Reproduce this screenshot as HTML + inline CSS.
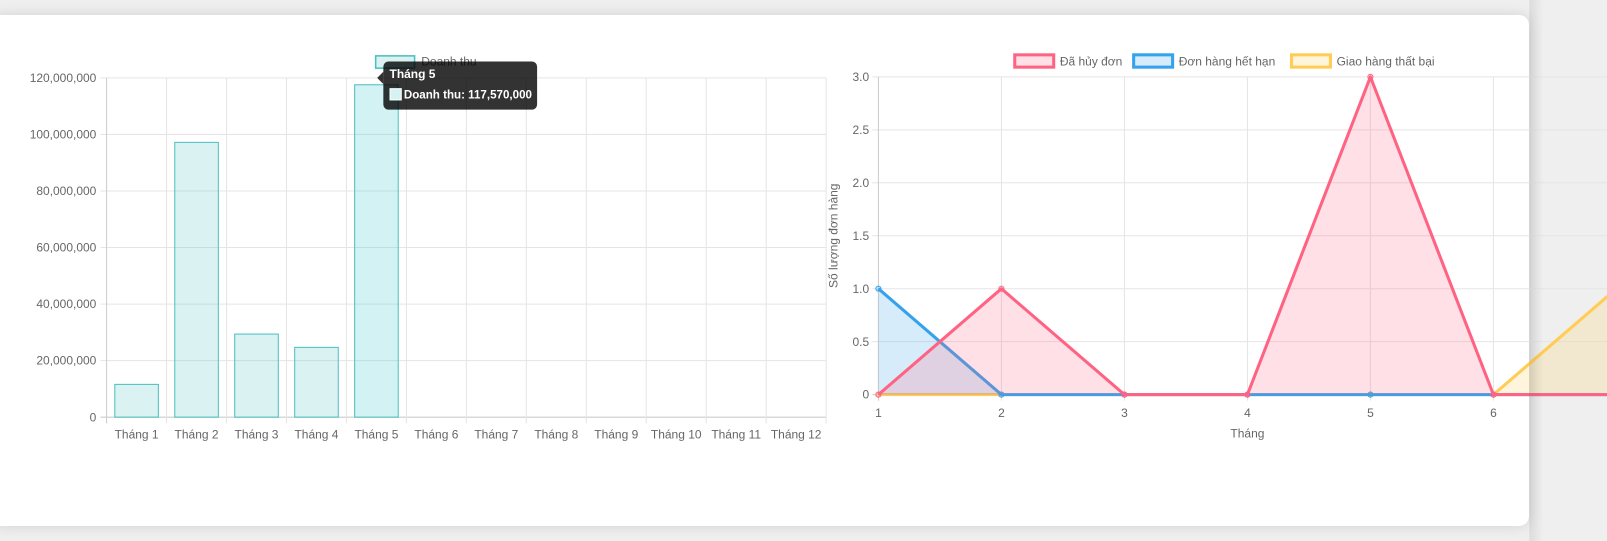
<!DOCTYPE html>
<html><head><meta charset="utf-8"><style>
html,body{margin:0;padding:0;background:#efefef;width:1607px;height:541px;overflow:hidden;font-family:"Liberation Sans","Noto Sans CJK SC",sans-serif}
#card{position:absolute;left:-10px;top:15px;width:1539px;height:511px;background:#fff;border-radius:10px;box-shadow:0 0 14px rgba(0,0,0,0.12)}
svg{position:absolute;left:0;top:0}
text{font-family:"Liberation Sans","Noto Sans CJK SC",sans-serif;fill:#666;font-size:11.7px}
</style></head><body>
<div id="card"></div>
<svg width="1607" height="541"><g id="chart" transform="scale(1.025)"></g></svg>
<script>
const barCats=["Tháng 1","Tháng 2","Tháng 3","Tháng 4","Tháng 5","Tháng 6","Tháng 7","Tháng 8","Tháng 9","Tháng 10","Tháng 11","Tháng 12"];
const revenue=[11600000,97200000,29400000,24700000,117570000,0,0,0,0,0,0,0];
const barTicks=[0,20000000,40000000,60000000,80000000,100000000,120000000];
const lineCats=[1,2,3,4,5,6,7];
const canceled=[0,1,0,0,3,0,0];
const expired=[1,0,0,0,0,0,0];
const failed=[0,0,0,0,0,0,1];
const lineTicks=[0,0.5,1,1.5,2,2.5,3];
const lineTickLabels=["0","0.5","1.0","1.5","2.0","2.5","3.0"];

const svg=document.getElementById('chart');
const NS='http://www.w3.org/2000/svg';
function mk(tag,attrs,parent){const e=document.createElementNS(NS,tag);for(const k in attrs)e.setAttribute(k,attrs[k]);(parent||svg).appendChild(e);return e;}
function fmt(n){return n.toLocaleString('en-US');}

// ---- bar chart ----
const bx0=104,bx1=806,by0=407,by1=76;
const bw=(bx1-bx0)/barCats.length;
const bY=v=>by0-(v/120000000)*(by0-by1);
const bX=i=>bx0+bw*i;
barTicks.forEach(t=>{
  const y=bY(t);
  let l=mk('line',{x1:bx0-6,x2:bx1,y1:y,y2:y,stroke:t===0?'#ccc':'#e5e5e5'});
  
  
  let tx=mk('text',{x:bx0-10,y:y+4,'text-anchor':'end'});tx.textContent=fmt(t);
  
  
});
for(let i=0;i<=barCats.length;i++){
  let l=mk('line',{x1:bX(i),x2:bX(i),y1:by1,y2:by0+6,stroke:i===0?'#ccc':'#e5e5e5'});
  
  
}
barCats.forEach((c,i)=>{
  let tx=mk('text',{x:bX(i)+bw/2,y:by0+21,'text-anchor':'middle'});tx.textContent=c;
  
  
  if(revenue[i]>0){
    const y=bY(revenue[i]);
    let r=mk('rect',{x:bX(i)+8,y:y,width:bw-16,height:by0-y,fill:i===4?'rgba(75,205,210,0.25)':'rgba(75,192,192,0.2)',stroke:'#4bc0c0','stroke-width':1});
    
    
  }
});
let lg=mk('rect',{x:366.5,y:54.5,width:38,height:12,fill:'rgba(75,192,192,0.2)',stroke:'#4bc0c0','stroke-width':1.5});


let lgt=mk('text',{x:411,y:64});lgt.textContent='Doanh thu';


// tooltip
const tg=mk('g',{});


mk('path',{d:'M374 70 L368 76 L374 82 Z',fill:'rgba(0,0,0,0.8)'},tg);
mk('rect',{x:374,y:60,width:150,height:47,rx:5,fill:'rgba(0,0,0,0.8)'},tg);
let tt=mk('text',{x:380,y:76,style:'fill:#fff;font-weight:bold'},tg);tt.textContent='Tháng 5';
mk('rect',{x:380.5,y:86.5,width:11,height:11,fill:'#d5f3f3',stroke:'#fff'},tg);
let tv=mk('text',{x:394,y:96,style:'fill:#fff;font-weight:bold',textLength:125,lengthAdjust:'spacingAndGlyphs'},tg);tv.textContent='Doanh thu: '+fmt(revenue[4]);

// ---- line chart ----
const lx0=857,lstep=120,ly0=385,ly1=75;
const lX=i=>lx0+lstep*i;
const lY=v=>ly0-(v/3)*(ly0-ly1);
lineTicks.forEach((t,k)=>{
  const y=lY(t);
  let l=mk('line',{x1:lx0-6,x2:1607,y1:y,y2:y,stroke:t===0?'#ccc':'#e5e5e5'});
  
  
  let tx=mk('text',{x:lx0-9,y:y+4,'text-anchor':'end'});tx.textContent=lineTickLabels[k];
  
  
});
lineCats.forEach((c,i)=>{
  let l=mk('line',{x1:lX(i),x2:lX(i),y1:ly1,y2:ly0+6,stroke:i===0?'#ccc':'#e5e5e5'});
  
  
  let tx=mk('text',{x:lX(i),y:ly0+22,'text-anchor':'middle'});tx.textContent=c;
  
  
});
let xt=mk('text',{x:1217,y:427,'text-anchor':'middle'});xt.textContent='Tháng';


let yt=mk('text',{x:0,y:0,'text-anchor':'middle',transform:'translate(817,230) rotate(-90)'});yt.textContent='Số lượng đơn hàng';



const series=[
 {name:'failed',data:failed,stroke:'#ffcd56',fill:'rgba(255,205,86,0.2)'},
 {name:'expired',data:expired,stroke:'#36a2eb',fill:'rgba(54,162,235,0.2)'},
 {name:'canceled',data:canceled,stroke:'#ff6384',fill:'rgba(255,99,132,0.2)'}
];
series.forEach(s=>{
  const pts=s.data.map((v,i)=>lX(i)+','+lY(v));
  let a=mk('polygon',{points:lX(0)+','+ly0+' '+pts.join(' ')+' '+lX(s.data.length-1)+','+ly0,fill:s.fill});
  
  
  let p=mk('polyline',{points:pts.join(' '),fill:'none',stroke:s.stroke,'stroke-width':3,'stroke-linejoin':'round'});
  
  
  s.data.forEach((v,i)=>{
    let c=mk('circle',{cx:lX(i),cy:lY(v),r:2.5,fill:s.fill,stroke:s.stroke,'stroke-width':1});
    
    
  });
});
// legend
const legs=[['Đã hủy đơn','#ff6384','rgba(255,99,132,0.2)',990],['Đơn hàng hết hạn','#36a2eb','rgba(54,162,235,0.2)',1106],['Giao hàng thất bại','#ffcd56','rgba(255,205,86,0.2)',1260]];
legs.forEach(L=>{
  let r=mk('rect',{x:L[3],y:53.5,width:38,height:12,fill:L[2],stroke:L[1],'stroke-width':3});
  
  
  let t=mk('text',{x:L[3]+44,y:64});t.textContent=L[0];
  
  
});
// card edge shadow overlaying chart
const defs=mk('defs',{});
const gr=mk('linearGradient',{id:'sh',x1:0,x2:1,y1:0,y2:0},defs);
mk('stop',{offset:0,'stop-color':'rgba(0,0,0,0.08)'},gr);
mk('stop',{offset:1,'stop-color':'rgba(0,0,0,0)'},gr);
let sh=mk('rect',{x:1492,y:0,width:14,height:541,fill:'url(#sh)'});


</script>
</body></html>
